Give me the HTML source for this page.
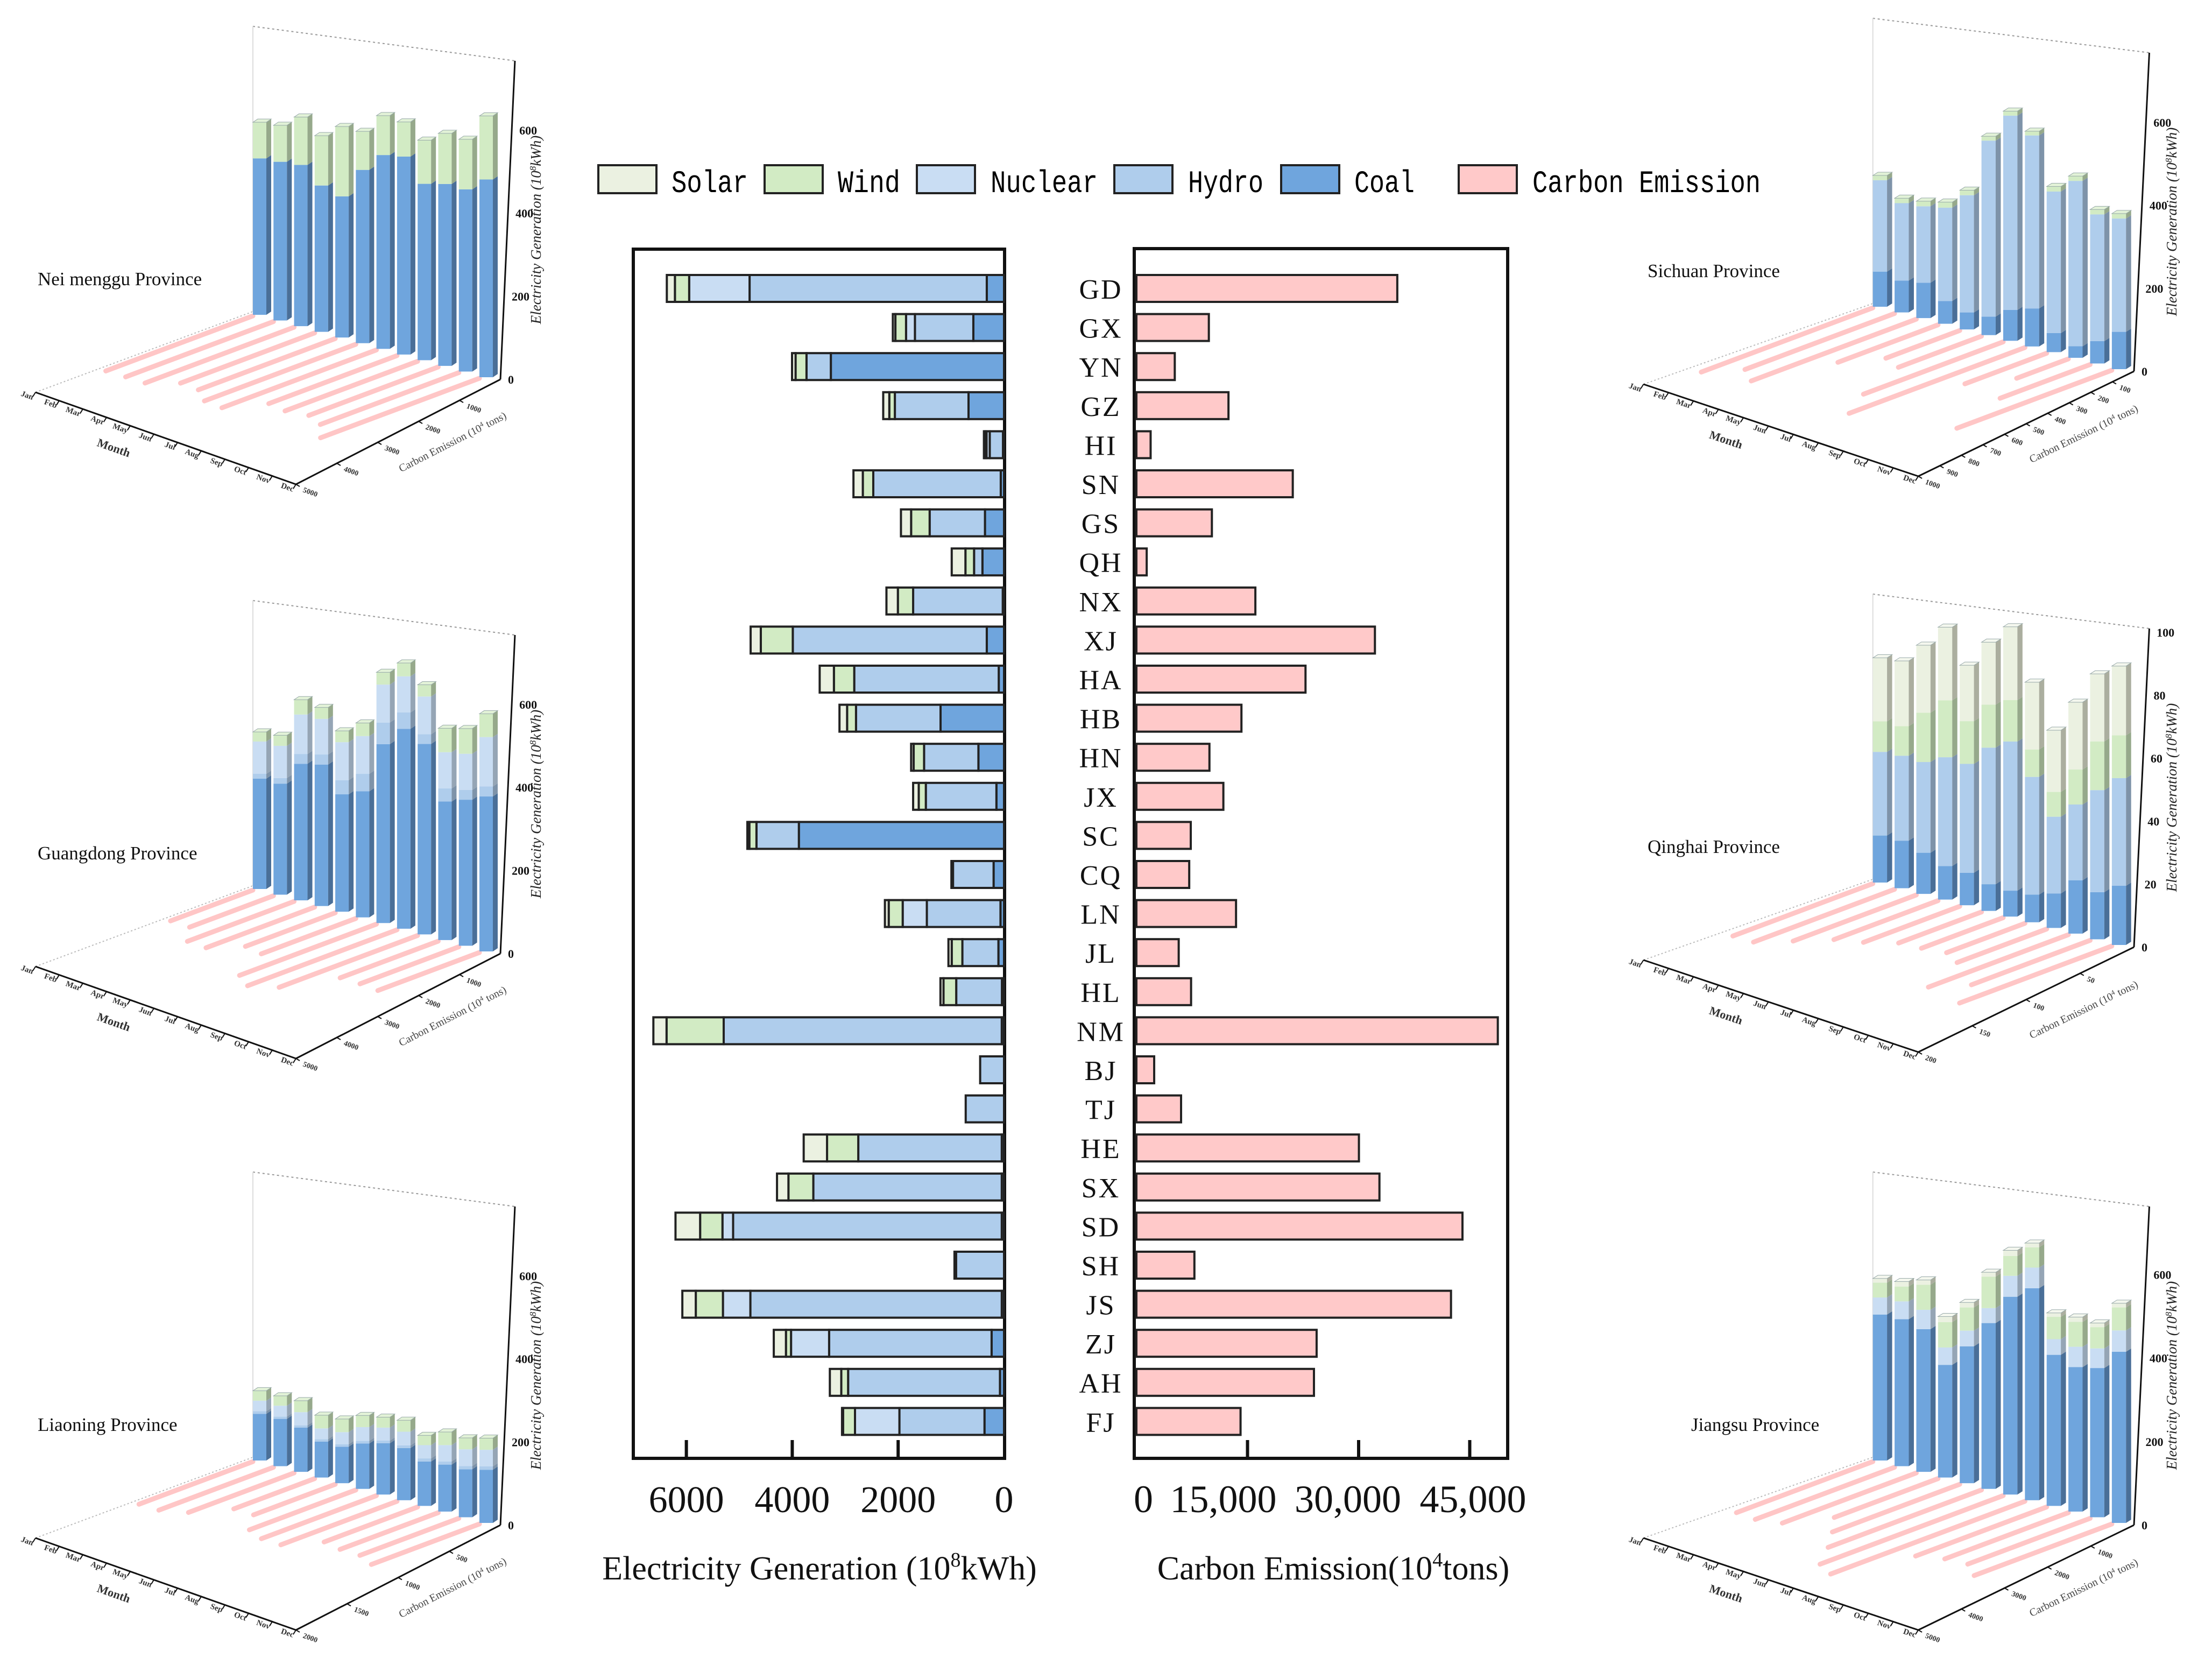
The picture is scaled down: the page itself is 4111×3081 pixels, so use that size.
<!DOCTYPE html>
<html><head><meta charset="utf-8"><title>Electricity Generation and Carbon Emission by Province</title>
<style>
html,body{margin:0;padding:0;background:#fff;}
svg{display:block;}
text{font-family:"Liberation Serif",serif;}
</style></head>
<body>
<svg id="fig" xmlns="http://www.w3.org/2000/svg" width="4111" height="3081" viewBox="0 0 4111 3081">
<rect x="0" y="0" width="4111" height="3081" fill="#fff"/>
<g font-family="Liberation Mono, monospace" font-size="58">
  <rect x="1112" y="307" width="108" height="52" fill="#ebf1e1" stroke="#222" stroke-width="4"/>
  <text x="1248" y="357" textLength="142" lengthAdjust="spacingAndGlyphs" style="font-family:'Liberation Mono',monospace">Solar</text>
  <rect x="1421" y="307" width="108" height="52" fill="#d2ebc4" stroke="#222" stroke-width="4"/>
  <text x="1557" y="357" textLength="116" lengthAdjust="spacingAndGlyphs" style="font-family:'Liberation Mono',monospace">Wind</text>
  <rect x="1704" y="307" width="108" height="52" fill="#c9ddf3" stroke="#222" stroke-width="4"/>
  <text x="1841" y="357" textLength="199" lengthAdjust="spacingAndGlyphs" style="font-family:'Liberation Mono',monospace">Nuclear</text>
  <rect x="2071" y="307" width="108" height="52" fill="#afcdec" stroke="#222" stroke-width="4"/>
  <text x="2208" y="357" textLength="140" lengthAdjust="spacingAndGlyphs" style="font-family:'Liberation Mono',monospace">Hydro</text>
  <rect x="2381" y="307" width="108" height="52" fill="#6fa5dd" stroke="#222" stroke-width="4"/>
  <text x="2517" y="357" textLength="112" lengthAdjust="spacingAndGlyphs" style="font-family:'Liberation Mono',monospace">Coal</text>
  <rect x="2711" y="307" width="108" height="52" fill="#ffc9c9" stroke="#222" stroke-width="4"/>
  <text x="2848" y="357" textLength="424" lengthAdjust="spacingAndGlyphs" style="font-family:'Liberation Mono',monospace">Carbon Emission</text>
</g>
<g id="main"></g>
<g id="panels"></g>
</svg>
<script>
// ===== Main bar chart data =====
const provinces = ["GD","GX","YN","GZ","HI","SN","GS","QH","NX","XJ","HA","HB","HN","JX","SC","CQ","LN","JL","HL","NM","BJ","TJ","HE","SX","SD","SH","JS","ZJ","AH","FJ"];
const coal    = [326,580,3271,671,20,62,360,408,24,326,100,1199,484,144,3875,197,67,106,40,43,0,0,43,43,43,0,43,235,77,369];
const hydro   = [4480,1103,460,1391,250,2408,1045,158,1693,3664,2729,1597,1026,1333,801,767,1391,681,863,5252,451,724,2710,3559,5074,906,4748,3069,2868,1607];
const nuclear = [1141,168,0,0,60,0,0,0,0,0,0,0,0,0,0,0,456,0,0,0,0,0,0,0,201,0,518,719,0,839];
const wind    = [269,201,206,105,30,197,350,163,288,604,384,168,197,134,134,0,264,201,240,1079,0,0,590,470,422,0,513,96,129,225];
const solar   = [153,48,67,115,20,177,192,259,216,192,269,144,48,106,38,30,72,62,58,249,0,0,441,216,465,30,254,230,216,20];
const carbon  = [35220,9780,5180,12430,1920,21110,10190,1390,16060,32200,22830,14180,9860,11740,7340,7130,13450,5710,7380,48790,2400,6030,30040,32810,44020,7830,42470,24330,23970,14060];
const genTicks = [6000,4000,2000,0];
const genTickLabels = ["6000","4000","2000","0"];
const carbonTicks = [0,15000,30000,45000];
const carbonTickLabels = ["0","15,000","30,000","45,000"];

// ===== Province panel data (monthly) =====
const months = ["Jan","Feb","Mar","Apr","May","Jun","Jul","Aug","Sep","Oct","Nov","Dec"];
const nmCoal = [489,483,478,423,398,477,521,520,453,457,448,476];
const nmWind = [113,111,142,144,197,106,106,91,112,127,123,153];
const nmCarbon = [3465,3483,3511,3160,3225,3567,3640,3021,3123,3049,3262,3742];
const gdCoal = [345,338,405,409,331,347,481,525,489,348,359,373];
const gdHydro = [15,17,29,29,40,48,58,43,25,33,24,24];
const gdNuclear = [101,98,117,103,107,104,102,95,97,91,89,119];
const gdWind = [30,32,44,33,32,36,33,35,30,60,62,56];
const gdCarbon = [1940,1977,2513,2559,2116,2227,3225,3520,3262,2310,2328,2393];
const lnCoal = [146,144,131,104,103,125,138,137,114,118,118,128];
const lnHydro = [8,7,7,7,7,7,7,7,8,8,8,8];
const lnNuclear = [33,33,39,31,34,38,35,36,34,41,41,40];
const lnWind = [31,30,34,38,37,32,28,30,25,33,28,28];
const lnCarbon = [1073,1080,995,762,770,1003,1084,1095,881,925,932,1018];
const scCoal = [110,97,105,66,48,51,83,100,49,29,55,90];
const scHydro = [286,236,227,270,331,485,523,455,364,416,312,273];
const scWind = [15,15,15,16,14,12,12,11,13,12,12,12];
const scCarbon = [766,668,737,447,330,371,624,785,365,231,402,692];
const qhCoal = [19.4,19.1,16.1,12.8,12.1,9.7,9.2,9.6,11.7,17.7,15.3,18.8];
const qhHydro = [34.5,34.1,35.5,41.5,40.5,49.6,52.9,40.8,26.0,25.1,33.1,34.2];
const qhWind = [12.6,11.9,19.3,21.7,15.9,15.6,14.7,9.5,8.4,11.6,15.8,13.6];
const qhSolar = [26.2,26.2,26.4,27.9,20.8,22.7,26.0,23.3,20.9,22.3,21.9,22.0];
const qhCarbon = [125,126,110,93,86,74,73,70,80,125,106,136];
const jsCoal = [454,445,421,324,384,454,529,554,386,361,365,410];
const jsNuclear = [53,54,57,50,44,41,56,54,40,51,48,51];
const jsWind = [46,45,74,73,65,86,53,53,57,62,52,55];
const jsSolar = [13,15,14,16,14,12,15,11,10,12,10,10];
const jsCarbon = [3046,3110,2991,2317,2843,3424,4089,4338,2926,2760,2732,3074];

const NS = "http://www.w3.org/2000/svg";
function mk(tag, attrs, parent){
  const e = document.createElementNS(NS, tag);
  for (const k in attrs) e.setAttribute(k, attrs[k]);
  parent.appendChild(e);
  return e;
}
const COL = {coal:"#6fa5dd", hydro:"#afcdec", nuclear:"#c9ddf3", wind:"#d2ebc4", solar:"#ebf1e1"};
const SIDE = {coal:"#4a6f98", hydro:"#7e93a9", nuclear:"#95a5b5", wind:"#96a98b", solar:"#abae9f"};
const TOP = {coal:"#8dbbe8", hydro:"#c6dcf2", nuclear:"#dbe8f6", wind:"#e2f2d7", solar:"#f4f7ee"};

// ===== main charts =====
const main = document.getElementById("main");
const L0 = 1866, LPX = 196.8/2000;     // left axis: value -> x
const R0 = 2112, RPX = 206.5/15000;    // right axis
const ROW0 = 536, ROWH = 72.6, BARH = 50;
function xGen(v){ return L0 - v*LPX; }
function xCar(v){ return R0 + v*RPX; }
function yRow(i){ return ROW0 + i*ROWH; }

const lframe = mk("rect",{x:1177,y:463,width:690,height:2247,fill:"none",stroke:"#111","stroke-width":6},main);


const rframe = mk("rect",{x:2108,y:462,width:694,height:2248,fill:"none",stroke:"#111","stroke-width":6},main);



const segs = [["coal",coal],["hydro",hydro],["nuclear",nuclear],["wind",wind],["solar",solar]];
provinces.forEach((p,i)=>{
  let cum = 0;
  const yc = yRow(i);
  segs.forEach(([nm,arr])=>{
    const v = arr[i];
    if (v > 0) {
      const x1 = xGen(cum+v), x0 = xGen(cum);
      const r = mk("rect",{x:x1,y:yc-BARH/2,width:x0-x1,height:BARH,fill:COL[nm],stroke:"#222","stroke-width":4},main);
      
      
    }
    cum += v;
  });
  const cb = mk("rect",{x:xCar(0),y:yc-BARH/2,width:xCar(carbon[i])-xCar(0),height:BARH,fill:"#ffc9c9",stroke:"#222","stroke-width":4},main);
  
  
  const lab = mk("text",{x:2046,y:yc+19,"text-anchor":"middle","font-size":52,fill:"#111","letter-spacing":"3"},main);
  lab.textContent = p;
  
  
});
genTicks.forEach((t,j)=>{
  const x = xGen(t);
  if (t>0) {
    const tk = mk("line",{x1:x,y1:2710,x2:x,y2:2676,stroke:"#111","stroke-width":6},main);
    
    
  }
  const tl = mk("text",{x:x,y:2810,"text-anchor":"middle","font-size":70,fill:"#111"},main);
  tl.textContent = genTickLabels[j];
  
  
});
const carLabelShift = [13,-45,-20,6];
carbonTicks.forEach((t,j)=>{
  const x = xCar(t);
  if (t>0) {
    const tk = mk("line",{x1:x,y1:2710,x2:x,y2:2676,stroke:"#111","stroke-width":6},main);
    
    
  }
  const tl = mk("text",{x:x+carLabelShift[j],y:2810,"text-anchor":"middle","font-size":72,fill:"#111"},main);
  tl.textContent = carbonTickLabels[j];
  
  
});
const gt = mk("text",{x:1523,y:2935,"text-anchor":"middle","font-size":62,fill:"#111"},main);
gt.innerHTML = 'Electricity Generation (10<tspan dy="-24" font-size="38">8</tspan><tspan dy="24">kWh)</tspan>';


const ct = mk("text",{x:2478,y:2935,"text-anchor":"middle","font-size":62,fill:"#111"},main);
ct.innerHTML = 'Carbon Emission(10<tspan dy="-24" font-size="38">4</tspan><tspan dy="24">tons)</tspan>';



// ===== 3D province panels =====
const panelsG = document.getElementById("panels");
const panels = [
  {id:"nei-menggu", label:"Nei menggu Province", lx:70, C:[930,705], sx:1, k:0.772, axisTicks:[0,200,400,600], cmax:5000, cticks:[1000,2000,3000,4000,5000],
   segs:[["coal",nmCoal],["wind",nmWind]], carbon:nmCarbon},
  {id:"guangdong", label:"Guangdong Province", lx:70, C:[930,1772], sx:1, k:0.772, axisTicks:[0,200,400,600], cmax:5000, cticks:[1000,2000,3000,4000,5000],
   segs:[["coal",gdCoal],["hydro",gdHydro],["nuclear",gdNuclear],["wind",gdWind]], carbon:gdCarbon},
  {id:"liaoning", label:"Liaoning Province", lx:70, C:[930,2834], sx:1, k:0.772, axisTicks:[0,200,400,600], cmax:2000, cticks:[500,1000,1500,2000],
   segs:[["coal",lnCoal],["hydro",lnHydro],["nuclear",lnNuclear],["wind",lnWind]], carbon:lnCarbon},
  {id:"sichuan", label:"Sichuan Province", lx:3062, C:[3966,690], sx:1.055, k:0.771, axisTicks:[0,200,400,600], cmax:1000, cticks:[100,200,300,400,500,600,700,800,900,1000],
   segs:[["coal",scCoal],["hydro",scHydro],["wind",scWind]], carbon:scCarbon},
  {id:"qinghai", label:"Qinghai Province", lx:3062, C:[3966,1760], sx:1.055, k:5.85, axisTicks:[0,20,40,60,80,100], cmax:200, cticks:[50,100,150,200],
   segs:[["coal",qhCoal],["hydro",qhHydro],["wind",qhWind],["solar",qhSolar]], carbon:qhCarbon},
  {id:"jiangsu", label:"Jiangsu Province", lx:3143, C:[3966,2834], sx:1.055, k:0.776, axisTicks:[0,200,400,600], cmax:5000, cticks:[1000,2000,3000,4000,5000],
   segs:[["coal",jsCoal],["nuclear",jsNuclear],["wind",jsWind],["solar",jsSolar]], carbon:jsCarbon}
];
function drawPanel(P){
  const g = mk("g",{},panelsG);
  
  
  const cx = P.C[0], cy = P.C[1], s = P.sx;
  const X = (dx)=> cx + dx*s;
  // frame lines
  const dl = mk("line",{x1:X(-460),y1:cy-656,x2:X(27),y2:cy-592,stroke:"#999","stroke-width":2,"stroke-dasharray":"4 5"},g);
  
  
  const bl = mk("line",{x1:X(-460),y1:cy-656,x2:X(-460),y2:cy-126,stroke:"#ddd","stroke-width":2},g);
  
  
  const fl = mk("line",{x1:X(-864),y1:cy+24,x2:X(-460),y2:cy-126,stroke:"#bbb","stroke-width":2,"stroke-dasharray":"3 4"},g);
  
  
  // vertical axis
  const va = mk("line",{x1:cx,y1:cy,x2:X(27),y2:cy-592,stroke:"#111","stroke-width":3},g);
  
  
  P.axisTicks.forEach(t=>{
    const yy = cy - t*P.k;
    const xx = cx + 27*s*(t*P.k)/592;
    const tt = mk("text",{x:xx+14,y:yy+8,"font-size":22,"font-weight":"bold",fill:"#111"},g);
    tt.textContent = String(t);
    
    
  });
  const vt = mk("text",{x:0,y:0,"font-size":27,"font-style":"italic",fill:"#222","text-anchor":"middle",transform:"translate("+(cx+75*s)+","+(cy-278)+") rotate(-90)"},g);
  vt.innerHTML = 'Electricity Generation (10<tspan dy="-9" font-size="17">8</tspan><tspan dy="9">kWh)</tspan>';
  
  
  // month axis
  const m0 = [X(-864),cy+24], m1 = [X(-380),cy+195];
  const ma = mk("line",{x1:m0[0],y1:m0[1],x2:m1[0],y2:m1[1],stroke:"#111","stroke-width":3},g);
  
  
  const ang = Math.atan2(m1[1]-m0[1], m1[0]-m0[0])*180/Math.PI;
  months.forEach((m,j)=>{
    const t = j/11;
    const px = m0[0]+(m1[0]-m0[0])*t, py = m0[1]+(m1[1]-m0[1])*t;
    const tk = mk("line",{x1:px,y1:py,x2:px-5,y2:py+8,stroke:"#111","stroke-width":2},g);
    
    
    const tl = mk("text",{x:0,y:0,"font-size":15,"font-weight":"bold",fill:"#333","text-anchor":"end",transform:"translate("+(px-6)+","+(py+14)+") rotate("+ang+")"},g);
    tl.textContent = m;
    
    
  });
  const mt = mk("text",{x:0,y:0,"font-size":22,"font-weight":"bold",fill:"#333","text-anchor":"middle",transform:"translate("+X(-721)+","+(cy+134)+") rotate("+ang+")"},g);
  mt.textContent = "Month";
  
  
  // carbon axis
  const c1 = [cx,cy];
  const ca = mk("line",{x1:m1[0],y1:m1[1],x2:c1[0],y2:c1[1],stroke:"#111","stroke-width":3},g);
  
  
  const cang = Math.atan2(c1[1]-m1[1], c1[0]-m1[0])*180/Math.PI;
  P.cticks.forEach(t=>{
    const f = t/P.cmax;
    const px = c1[0]+(m1[0]-c1[0])*f, py = c1[1]+(m1[1]-c1[1])*f;
    const tk = mk("line",{x1:px,y1:py,x2:px+7,y2:py+4,stroke:"#111","stroke-width":2},g);
    
    
    const tl = mk("text",{x:0,y:0,"font-size":14,"font-weight":"bold",fill:"#333",transform:"translate("+(px+12)+","+(py+14)+") rotate(20)"},g);
    tl.textContent = String(t);
    
    
  });
  const ctl = mk("text",{x:0,y:0,"font-size":20,fill:"#444","text-anchor":"middle",transform:"translate("+X(-86)+","+(cy+122)+") rotate("+cang+")"},g);
  ctl.innerHTML = 'Carbon Emission (10<tspan dy="-7" font-size="13">4</tspan><tspan dy="7"> tons)</tspan>';
  
  
  // panel label
  const pl = mk("text",{x:P.lx,y:cy-175,"font-size":35,fill:"#111"},g);
  pl.textContent = P.label;
  
  
  // bar placement
  const W = 25*s, SD = 9*s, SDY = 6;
  const baseX = (i)=> X(-460 + (421/11)*i);
  const baseY = (i)=> cy - 120 + (116/11)*i;
  const fac = (i)=> 0.77 + 0.23*i/11;
  const L = 422*s, dir = [-0.935,0.35];
  // carbon floor lines
  P.carbon.forEach((v,i)=>{
    const len = v/P.cmax*L;
    const x0 = baseX(i), y0 = baseY(i)+2;
    const ln = mk("line",{x1:x0,y1:y0,x2:x0+dir[0]*len,y2:y0+dir[1]*len,stroke:"#ffc6c6","stroke-width":9,"stroke-linecap":"round"},g);
    
    
  });
  // bars
  for (let i=0;i<12;i++){
    const bx = baseX(i), by = baseY(i), sc = P.k*fac(i);
    let cum = 0;
    P.segs.forEach(([nm,arr],si)=>{
      const v = arr[i];
      const y0 = by - cum*sc, y1 = by - (cum+v)*sc;
      const fr = mk("rect",{x:bx,y:y1,width:W,height:Math.max(0,y0-y1),fill:COL[nm]},g);
      
      
      const sd = mk("polygon",{points:[bx+W,y0, bx+W+SD,y0-SDY, bx+W+SD,y1-SDY, bx+W,y1].join(","),fill:SIDE[nm]},g);
      
      
      cum += v;
      if (si === P.segs.length-1){
        const tp = mk("polygon",{points:[bx,y1, bx+SD,y1-SDY, bx+W+SD,y1-SDY, bx+W,y1].join(","),fill:TOP[nm],stroke:"#9aa",'stroke-width':1},g);
        
        
      }
    });
  }
}
panels.forEach(drawPanel);
</script>
</body></html>
